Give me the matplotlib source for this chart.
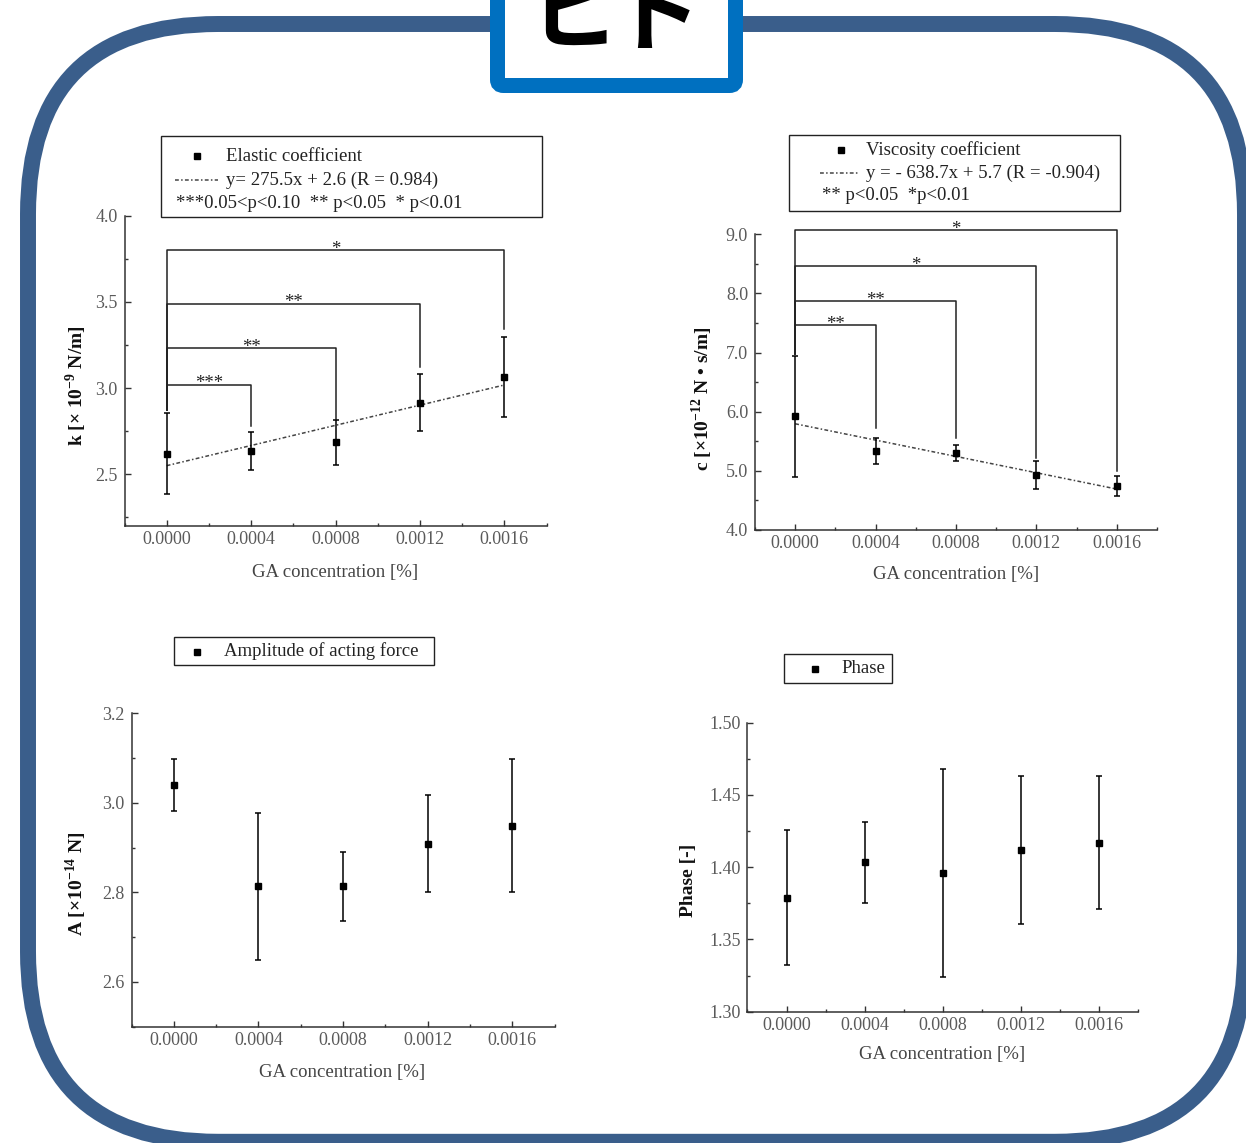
import numpy as np
import matplotlib
matplotlib.use("Agg")
import matplotlib.pyplot as plt
from matplotlib.patches import FancyBboxPatch, Rectangle
from matplotlib.lines import Line2D
from matplotlib.ticker import MultipleLocator, FormatStrFormatter

plt.rcParams["font.family"] = ["Liberation Serif", "DejaVu Serif"]
plt.rcParams["mathtext.fontset"] = "custom"
plt.rcParams["mathtext.rm"] = "Liberation Serif"
plt.rcParams["mathtext.bf"] = "Liberation Serif:bold"

# データ (GA濃度 [%])
conc = [0.0, 0.0004, 0.0008, 0.0012, 0.0016]

k_mean = [2.62, 2.635, 2.685, 2.915, 3.065]
k_err = [0.235, 0.11, 0.13, 0.165, 0.23]

c_mean = [5.92, 5.33, 5.30, 4.93, 4.74]
c_err = [1.03, 0.22, 0.14, 0.245, 0.17]

a_mean = [3.039, 2.814, 2.814, 2.909, 2.949]
a_err = [0.058, 0.164, 0.077, 0.109, 0.149]

ph_mean = [1.379, 1.4035, 1.396, 1.412, 1.417]
ph_err = [0.0465, 0.028, 0.072, 0.051, 0.046]

# 有意差ブラケット (右端x, 高さ, 右脚の下端, ラベル)
k_brackets = [(0.0004, 3.02, 2.78, "***"), (0.0008, 3.23, 2.82, "**"),
              (0.0012, 3.49, 3.12, "**"), (0.0016, 3.80, 3.34, "*")]
k_left_bottom = 2.87
c_brackets = [(0.0004, 7.46, 5.72, "**"), (0.0008, 7.87, 5.55, "**"),
              (0.0012, 8.46, 5.22, "*"), (0.0016, 9.07, 5.00, "*")]
c_left_bottom = 6.97

W, H = 1246, 1143
fig = plt.figure(figsize=(W / 100, H / 100), dpi=100)
fig.patch.set_facecolor("white")


def fx(x):
    return x / W


def fy(y):
    return 1 - y / H


def add_ax(l, t, r, b):
    return fig.add_axes([l / W, 1 - b / H, (r - l) / W, (b - t) / H])


fit_ls = (0, (2.5, 1.5, 1, 1.5))


def style(ax, ylim, ymaj, ymin, yfmt):
    ax.set_xlim(-0.0002, 0.0018)
    ax.set_ylim(*ylim)
    ax.xaxis.set_major_locator(MultipleLocator(0.0004))
    ax.xaxis.set_minor_locator(MultipleLocator(0.0002))
    ax.yaxis.set_major_locator(MultipleLocator(ymaj))
    ax.yaxis.set_minor_locator(MultipleLocator(ymin))
    ax.xaxis.set_major_formatter(FormatStrFormatter("%.4f"))
    ax.yaxis.set_major_formatter(FormatStrFormatter(yfmt))
    for s in ["top", "right"]:
        ax.spines[s].set_visible(False)
    for s in ["left", "bottom"]:
        ax.spines[s].set_linewidth(1.1)
        ax.spines[s].set_color("#333333")
    ax.tick_params(which="both", direction="in", color="#333333",
                   labelcolor="#5a5a5a", labelsize=13, width=1.0)
    ax.tick_params(which="major", length=4)
    ax.tick_params(which="minor", length=2.5)
    ax.tick_params(axis="x", pad=3.5)
    ax.tick_params(axis="y", pad=5)


def points(ax, mean, err):
    ax.errorbar(conc, mean, yerr=err, fmt="s", color="black", ms=4.5,
                capsize=2.5, elinewidth=1.1, capthick=1.1, clip_on=False,
                zorder=4)


def fit(ax, mean):
    p = np.polyfit(conc, mean, 1)
    xs = np.array([conc[0], conc[-1]])
    ax.plot(xs, np.polyval(p, xs), ls=fit_ls, color="#444444", lw=1.1,
            zorder=3)


def brackets(ax, br, left_bottom):
    for xr, ytop, ybot, lab in br:
        ax.plot([0, 0, xr, xr], [left_bottom, ytop, ytop, ybot],
                color="#222222", lw=1.1, clip_on=False, zorder=2)
        ax.annotate(lab, (xr / 2, ytop), xytext=(0, -2.5),
                    textcoords="offset points", ha="center", va="baseline",
                    fontsize=13.5, color="#222222", annotation_clip=False)


def legend(l, t, r, b, rows):
    fig.add_artist(Rectangle((fx(l), fy(b)), (r - l) / W, (b - t) / H,
                             transform=fig.transFigure, fill=False,
                             ec="#222222", lw=1.0))
    for kind, hx, tx, y, txt in rows:
        if kind == "marker":
            fig.add_artist(Line2D([fx(hx)], [fy(y)], marker="s", ms=4.5,
                                  color="black", ls="none",
                                  transform=fig.transFigure))
        elif kind == "line":
            fig.add_artist(Line2D([fx(hx[0]), fx(hx[1])], [fy(y), fy(y)],
                                  ls=fit_ls, color="#444444", lw=1.1,
                                  transform=fig.transFigure))
        fig.text(fx(tx), fy(y), txt, ha="left", va="center", fontsize=13.5,
                 color="#222222")


def xlabel(x, y):
    fig.text(fx(x), fy(y), "GA concentration [%]", ha="center", va="center",
             fontsize=13.5, color="#444444")


def ylabel(x, y, txt):
    fig.text(fx(x), fy(y), txt, ha="center", va="center", rotation=90,
             fontsize=14, fontweight="bold", color="#111111")


# 左上: 弾性係数
ax1 = add_ax(124.5, 215.7, 546.5, 526)
style(ax1, (2.2, 4.0), 0.5, 0.25, "%.1f")
brackets(ax1, k_brackets, k_left_bottom)
fit(ax1, k_mean)
points(ax1, k_mean, k_err)
legend(161, 136, 542, 216.5, [
    ("marker", 197, 226, 156, "Elastic coefficient"),
    ("line", (175, 218), 226, 180, "y= 275.5x + 2.6 (R = 0.984)"),
    (None, None, 176, 203, "***0.05<p<0.10  ** p<0.05  * p<0.01"),
])
xlabel(335, 573)
ylabel(76, 386, r"k [× 10$^{\mathbf{-9}}$ N/m]")

# 右上: 粘性係数
ax2 = add_ax(755, 234.3, 1157, 530)
style(ax2, (4.0, 9.0), 1.0, 0.5, "%.1f")
brackets(ax2, c_brackets, c_left_bottom)
fit(ax2, c_mean)
points(ax2, c_mean, c_err)
legend(789.3, 135, 1120, 210.7, [
    ("marker", 841, 866, 150, "Viscosity coefficient"),
    ("line", (820, 858), 866, 173, "y = - 638.7x + 5.7 (R = -0.904)"),
    (None, None, 822, 195, "** p<0.05  *p<0.01"),
])
xlabel(956, 575)
ylabel(702, 399, r"c [×10$^{\mathbf{-12}}$ N • s/m]")

# 左下: 作用力の振幅
ax3 = add_ax(131.5, 713.3, 554.5, 1026.7)
style(ax3, (2.5, 3.2), 0.2, 0.1, "%.1f")
points(ax3, a_mean, a_err)
legend(174, 637.3, 434.3, 665, [
    ("marker", 197, 224, 651.5, "Amplitude of acting force"),
])
xlabel(342, 1073)
ylabel(76, 884, r"A [×10$^{\mathbf{-14}}$ N]")

# 右下: 位相
ax4 = add_ax(747.5, 722.7, 1138.5, 1011.7)
style(ax4, (1.30, 1.50), 0.05, 0.025, "%.2f")
points(ax4, ph_mean, ph_err)
legend(784.3, 654, 891.7, 683.3, [
    ("marker", 815, 841, 668.5, "Phase"),
])
xlabel(942, 1055)
ylabel(688, 880, "Phase [-]")

# 外枠と見出しボックス
frame = FancyBboxPatch((0.28, 0.012), 12.17, 11.178,
                       boxstyle="round,pad=0,rounding_size=1.9",
                       transform=fig.dpi_scale_trans, fill=False,
                       ec="#3a5e8b", lw=11.5, zorder=1)
fig.add_artist(frame)
head = FancyBboxPatch((4.975, 10.575), 2.38, 1.155,
                      boxstyle="round,pad=0,rounding_size=0.06",
                      transform=fig.dpi_scale_trans, fc="white",
                      ec="#0070c0", lw=10.8, zorder=5)
fig.add_artist(head)
fig.text(fx(527), fy(43), "ヒ", fontsize=66, fontweight="bold",
         family=["Noto Sans CJK JP", "DejaVu Sans"], va="baseline",
         ha="left", color="black", zorder=6)
fig.text(fx(609), fy(44), "ト", fontsize=66, fontweight="bold",
         family=["Noto Sans CJK JP", "DejaVu Sans"], va="baseline",
         ha="left", color="black", zorder=6)

fig.savefig("out.png", dpi=100)
